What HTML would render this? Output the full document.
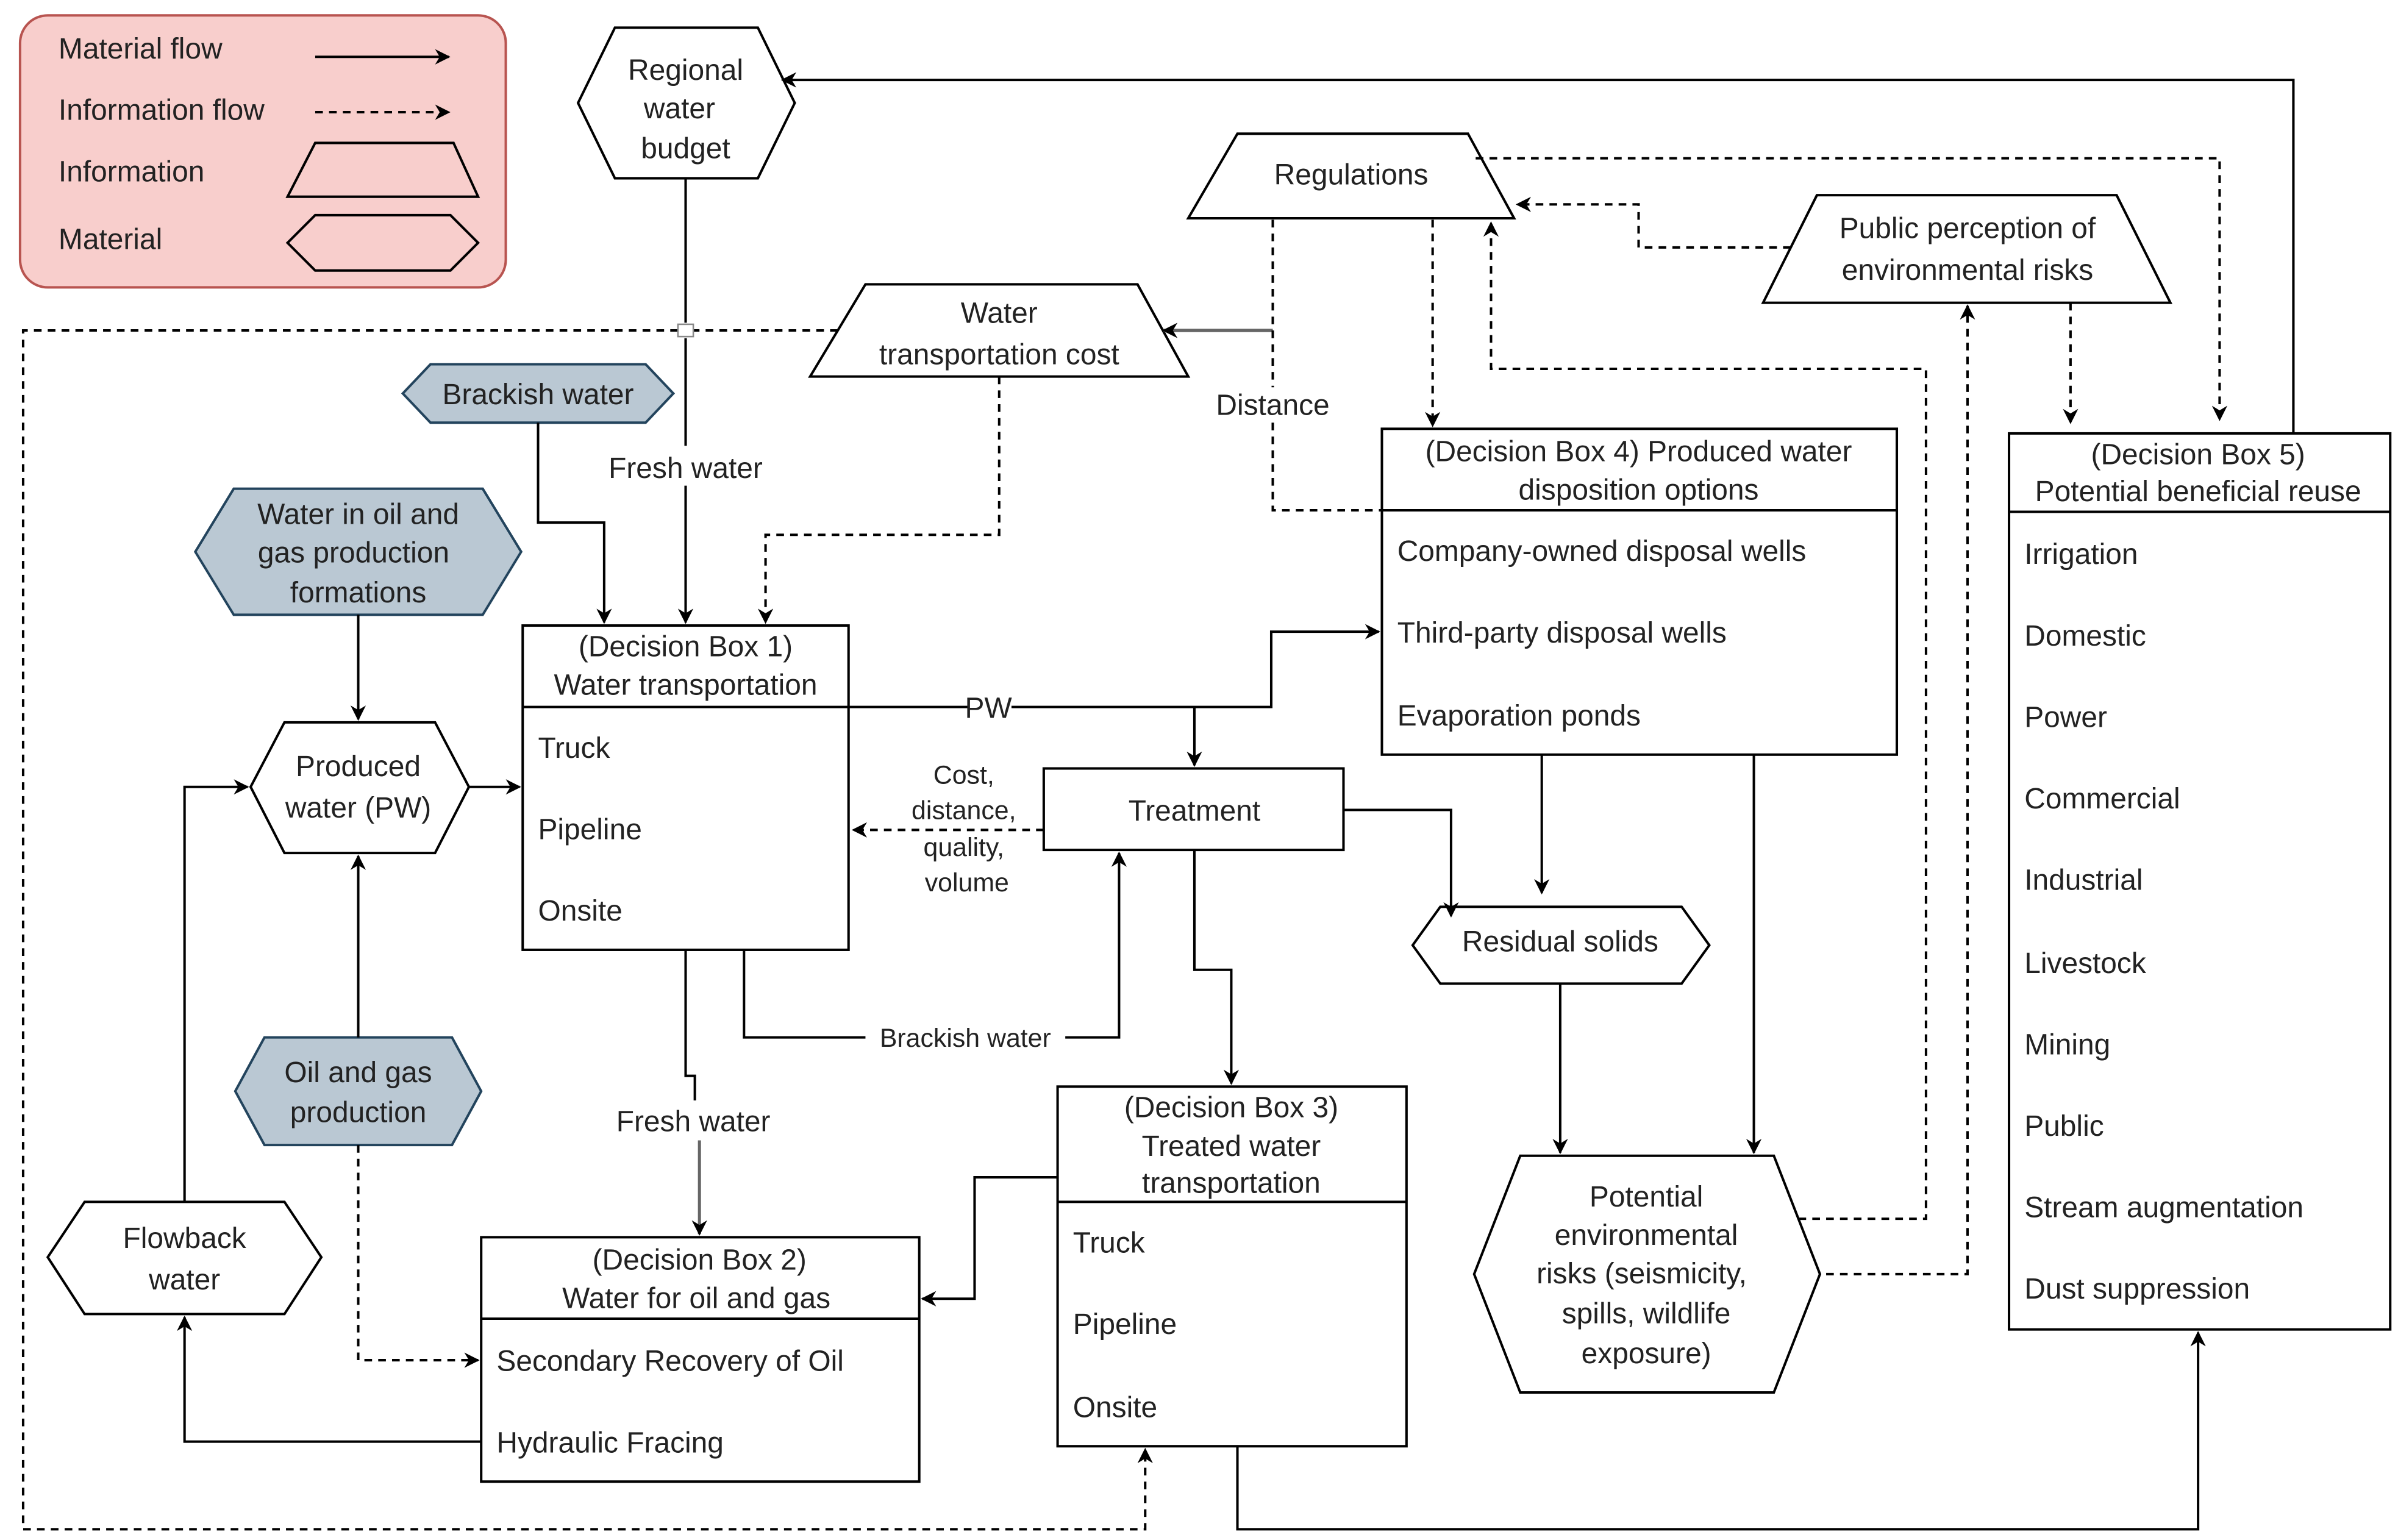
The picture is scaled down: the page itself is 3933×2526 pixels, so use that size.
<!DOCTYPE html>
<html><head><meta charset="utf-8"><style>
html,body{margin:0;padding:0;background:#fff;}
svg{display:block;}
text{font-family:"Liberation Sans",Arial,sans-serif;font-size:19px;fill:#222;}
</style></head><body>
<svg width="3933" height="2526" viewBox="0 0 1560 1002" xmlns="http://www.w3.org/2000/svg">
<defs>
<marker id="a" markerWidth="10" markerHeight="10" refX="9" refY="5" orient="auto" markerUnits="userSpaceOnUse"><path d="M0,0 L10,5 L0,10 L3,5 Z" fill="#000"/></marker>
</defs>
<g fill="none" stroke="#000" stroke-width="1.6">
<!-- legend -->
<rect x="13" y="10" width="316" height="177" rx="18" fill="#f8cecc" stroke="#b85450"/>
<line x1="205" y1="37" x2="292" y2="37" marker-end="url(#a)"/>
<line x1="205" y1="73" x2="292" y2="73" stroke-dasharray="5,4" marker-end="url(#a)"/>
<polygon points="205,93 295,93 311,128 187,128" fill="none"/>
<polygon points="187,158 205,140 293,140 311,158 293,176 205,176"/>

<!-- shapes -->
<polygon points="376,67 400,18 493,18 517,67 493,116 400,116" fill="#fff"/>
<polygon points="805,87 955,87 985,142 773,142" fill="#fff"/>
<polygon points="1182,127 1377,127 1412,197 1147,197" fill="#fff"/>
<polygon points="563,185 740,185 773,245 527,245" fill="#fff"/>
<polygon points="262,256 280,237 420,237 438,256 420,275 280,275" fill="#bac8d3" stroke="#23445d"/>
<polygon points="127,359 152,318 314,318 339,359 314,400 152,400" fill="#bac8d3" stroke="#23445d"/>
<polygon points="163,512 185,470 283,470 305,512 283,555 185,555" fill="#fff"/>
<polygon points="153,710 172,675 294,675 313,710 294,745 172,745" fill="#bac8d3" stroke="#23445d"/>
<polygon points="31,818 55,782 185,782 209,818 185,855 55,855" fill="#fff"/>
<rect x="340" y="407" width="212" height="211" fill="#fff"/><line x1="340" y1="460" x2="552" y2="460"/>
<rect x="313" y="805" width="285" height="159" fill="#fff"/><line x1="313" y1="858" x2="598" y2="858"/>
<rect x="679" y="500" width="195" height="53" fill="#fff"/>
<rect x="688" y="707" width="227" height="234" fill="#fff"/><line x1="688" y1="782" x2="915" y2="782"/>
<rect x="899" y="279" width="335" height="212" fill="#fff"/><line x1="899" y1="332" x2="1234" y2="332"/>
<polygon points="919,615 937,590 1094,590 1112,615 1094,640 937,640" fill="#fff"/>
<polygon points="959,829 989,752 1154,752 1184,829 1154,906 989,906" fill="#fff"/>
<rect x="1307" y="282" width="248" height="583" fill="#fff"/><line x1="1307" y1="333" x2="1555" y2="333"/>

<!-- solid connectors -->
<polyline points="1492,282 1492,52 509,52" marker-end="url(#a)"/>
<polyline points="446,116 446,210" /><polyline points="446,220 446,290"/><polyline points="446,316 446,405" marker-end="url(#a)"/>
<polyline points="350,275 350,340 393,340 393,405" marker-end="url(#a)"/>
<polyline points="828,215 757,215" stroke="#666" stroke-width="2.2" marker-end="url(#a)"/>
<polyline points="233,400 233,468" marker-end="url(#a)"/>
<polyline points="305,512 338,512" marker-end="url(#a)"/>
<polyline points="233,675 233,557" marker-end="url(#a)"/>
<polyline points="120,782 120,512 161,512" marker-end="url(#a)"/>
<polyline points="313,938 120,938 120,857" marker-end="url(#a)"/>
<polyline points="552,460 630,460"/><polyline points="658,460 827,460 827,411 897,411" marker-end="url(#a)"/>
<polyline points="777,460 777,498" marker-end="url(#a)"/>
<polyline points="484,618 484,675 563,675"/><polyline points="693,675 728,675 728,555" marker-end="url(#a)"/>
<polyline points="446,618 446,700 452,700 452,716"/><polyline points="455,742 455,803" stroke="#666" stroke-width="2" marker-end="url(#a)"/>
<polyline points="874,527 944,527 944,596" marker-end="url(#a)"/>
<polyline points="777,553 777,631 801,631 801,705" marker-end="url(#a)"/>
<polyline points="688,766 634,766 634,845 600,845" marker-end="url(#a)"/>
<polyline points="1003,491 1003,581" marker-end="url(#a)"/>
<polyline points="1141,491 1141,750" marker-end="url(#a)"/>
<polyline points="1015,640 1015,750" marker-end="url(#a)"/>
<polyline points="805,941 805,995 1430,995 1430,867" marker-end="url(#a)"/>

<!-- dashed connectors -->
<g stroke-dasharray="5,4">
<polyline points="650,245 650,348 498,348 498,405" marker-end="url(#a)"/>
<polyline points="545,215 451,215"/><polyline points="441,215 15,215 15,995 745,995 745,943" marker-end="url(#a)"/>
<polyline points="828,143 828,252"/><polyline points="828,275 828,332 899,332"/>
<polyline points="932,143 932,277" marker-end="url(#a)"/>
<polyline points="960,103 1444,103 1444,273" marker-end="url(#a)"/>
<polyline points="1165,161 1066,161 1066,133 987,133" marker-end="url(#a)"/>
<polyline points="1347,197 1347,275" marker-end="url(#a)"/>
<polyline points="1170,793 1253,793 1253,240 970,240 970,145" marker-end="url(#a)"/>
<polyline points="1188,829 1280,829 1280,199" marker-end="url(#a)"/>
<polyline points="233,745 233,885 311,885" marker-end="url(#a)"/>
<polyline points="679,540 555,540" marker-end="url(#a)"/>
</g>
<rect x="441" y="211" width="10" height="8" fill="#fff" stroke="#888" stroke-width="1"/>
</g>

<!-- text -->
<g>
<text x="38" y="38">Material flow</text>
<text x="38" y="78">Information flow</text>
<text x="38" y="118">Information</text>
<text x="38" y="162">Material</text>
</g>
<g text-anchor="middle">
<text x="446" y="52">Regional</text><text x="442" y="77">water</text><text x="446" y="103">budget</text>
<text x="879" y="120">Regulations</text>
<text x="1280" y="155">Public perception of</text><text x="1280" y="182">environmental risks</text>
<text x="650" y="210">Water</text><text x="650" y="237">transportation cost</text>
<text x="350" y="263">Brackish water</text>
<text x="233" y="341">Water in oil and</text><text x="230" y="366">gas production</text><text x="233" y="392">formations</text>
<text x="233" y="505">Produced</text><text x="233" y="532">water (PW)</text>
<text x="233" y="704">Oil and gas</text><text x="233" y="730">production</text>
<text x="120" y="812">Flowback</text><text x="120" y="839">water</text>
<text x="446" y="311">Fresh water</text>
<text x="828" y="270">Distance</text>
<text x="446" y="427">(Decision Box 1)</text><text x="446" y="452">Water transportation</text>
<text x="643" y="467">PW</text>
<text x="777" y="534">Treatment</text>
<g style="font-size:17px"><text x="627" y="510" style="font-size:17px">Cost,</text><text x="627" y="533" style="font-size:17px">distance,</text><text x="627" y="557" style="font-size:17px">quality,</text><text x="629" y="580" style="font-size:17px">volume</text>
<text x="628" y="681" style="font-size:17px">Brackish water</text></g>
<text x="451" y="736">Fresh water</text>
<text x="455" y="826">(Decision Box 2)</text><text x="453" y="851">Water for oil and gas</text>
<text x="801" y="727">(Decision Box 3)</text><text x="801" y="752">Treated water</text><text x="801" y="776">transportation</text>
<text x="1066" y="300">(Decision Box 4) Produced water</text><text x="1066" y="325">disposition options</text>
<text x="1015" y="619">Residual solids</text>
<text x="1071" y="785">Potential</text><text x="1071" y="810">environmental</text><text x="1068" y="835">risks (seismicity,</text><text x="1071" y="861">spills, wildlife</text><text x="1071" y="887">exposure)</text>
<text x="1430" y="302">(Decision Box 5)</text><text x="1430" y="326">Potential beneficial reuse</text>
</g>
<g>
<text x="350" y="493">Truck</text><text x="350" y="546">Pipeline</text><text x="350" y="599">Onsite</text>
<text x="323" y="892">Secondary Recovery of Oil</text><text x="323" y="945">Hydraulic Fracing</text>
<text x="698" y="815">Truck</text><text x="698" y="868">Pipeline</text><text x="698" y="922">Onsite</text>
<text x="909" y="365">Company-owned disposal wells</text><text x="909" y="418">Third-party disposal wells</text><text x="909" y="472">Evaporation ponds</text>
<text x="1317" y="367">Irrigation</text><text x="1317" y="420">Domestic</text><text x="1317" y="473">Power</text><text x="1317" y="526">Commercial</text><text x="1317" y="579">Industrial</text><text x="1317" y="633">Livestock</text><text x="1317" y="686">Mining</text><text x="1317" y="739">Public</text><text x="1317" y="792">Stream augmentation</text><text x="1317" y="845">Dust suppression</text>
</g>
</svg>
</body></html>
